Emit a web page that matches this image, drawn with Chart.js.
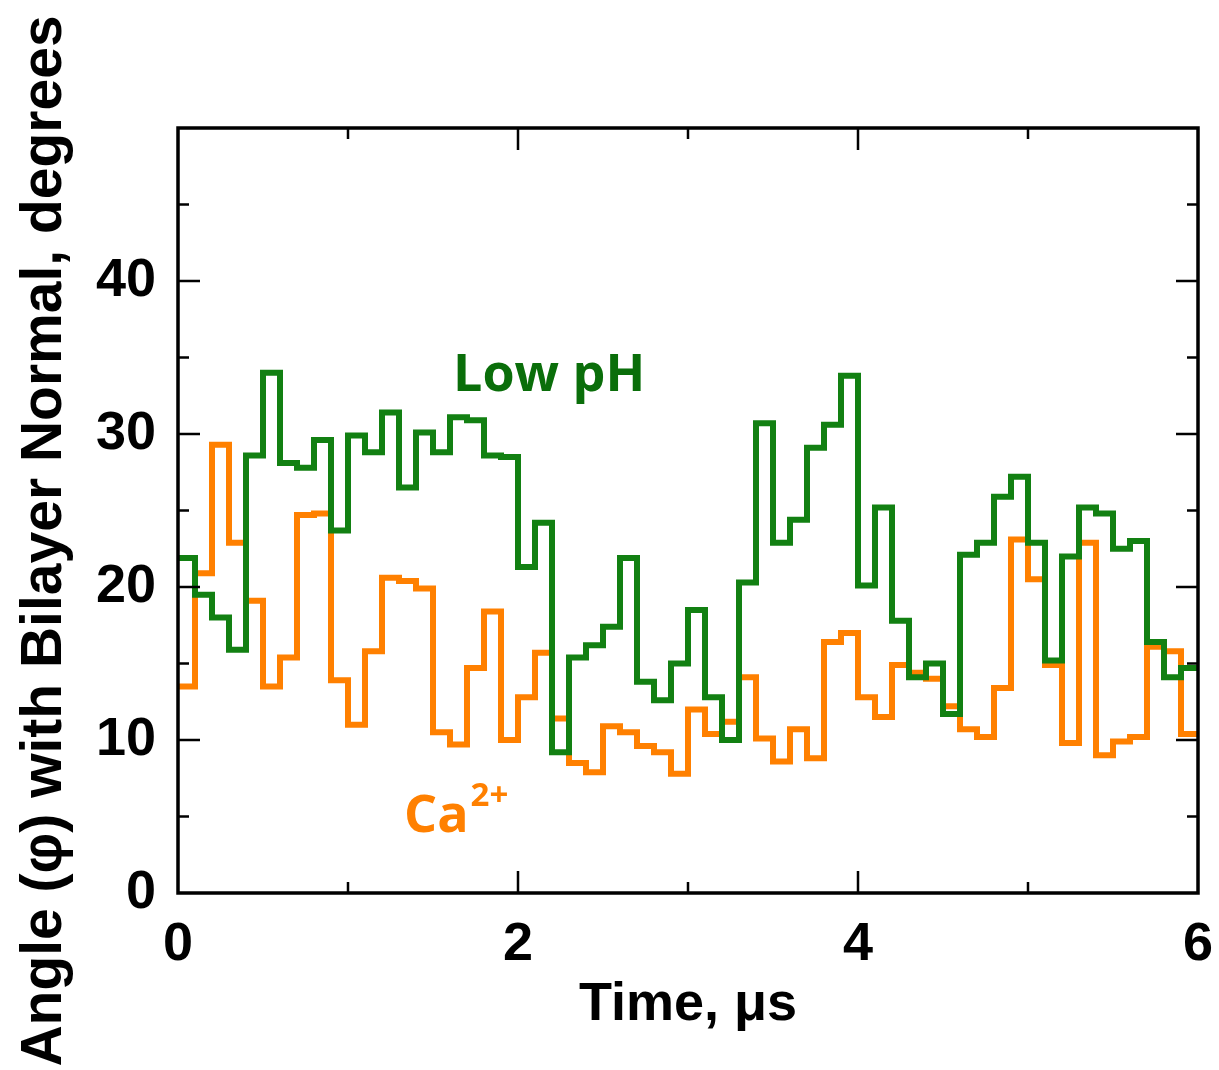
<!DOCTYPE html>
<html>
<head>
<meta charset="utf-8">
<script src="https://cdn.jsdelivr.net/npm/chart.js@4.4.0/dist/chart.umd.min.js"></script>
<style>
  body { margin: 0; background: #fff; }
  canvas { display: block; }
</style>
</head>
<body>
<canvas id="angleChart" width="1219" height="1070"></canvas>
<script>
// time points (µs), one step every 0.1 µs, last point closes the final step
const time = [0.0, 0.1, 0.2, 0.3, 0.4, 0.5, 0.6, 0.7, 0.8, 0.9,
              1.0, 1.1, 1.2, 1.3, 1.4, 1.5, 1.6, 1.7, 1.8, 1.9,
              2.0, 2.1, 2.2, 2.3, 2.4, 2.5, 2.6, 2.7, 2.8, 2.9,
              3.0, 3.1, 3.2, 3.3, 3.4, 3.5, 3.6, 3.7, 3.8, 3.9,
              4.0, 4.1, 4.2, 4.3, 4.4, 4.5, 4.6, 4.7, 4.8, 4.9,
              5.0, 5.1, 5.2, 5.3, 5.4, 5.5, 5.6, 5.7, 5.8, 5.9, 6.0];

const lowPH = [21.9, 19.5, 18.0, 15.9, 28.6, 34.0, 28.1, 27.8, 29.6, 23.7,
               29.9, 28.8, 31.4, 26.5, 30.1, 28.8, 31.1, 30.9, 28.6, 28.5,
               21.3, 24.2, 9.2, 15.4, 16.2, 17.4, 21.9, 13.8, 12.6, 15.0,
               18.5, 12.8, 10.0, 20.3, 30.7, 22.9, 24.4, 29.1, 30.6, 33.8,
               20.1, 25.2, 17.8, 14.1, 15.0, 11.7, 22.1, 22.9, 25.9, 27.2,
               22.9, 15.2, 22.0, 25.2, 24.8, 22.5, 23.0, 16.4, 14.1, 14.7, 14.7];

const calcium = [13.5, 20.9, 29.3, 22.9, 19.1, 13.5, 15.4, 24.7, 24.8, 13.9,
                 11.0, 15.8, 20.6, 20.4, 19.9, 10.5, 9.7, 14.7, 18.4, 10.0,
                 12.8, 15.7, 11.4, 8.5, 7.9, 10.9, 10.5, 9.6, 9.2, 7.8,
                 12.0, 10.4, 11.2, 14.1, 10.1, 8.6, 10.7, 8.8, 16.4, 17.0,
                 12.8, 11.5, 14.9, 14.4, 14.0, 12.2, 10.7, 10.2, 13.4, 23.1,
                 20.5, 14.9, 9.8, 22.9, 9.0, 9.9, 10.2, 16.1, 15.8, 10.4, 10.4];

const yMajor = [10, 20, 30, 40];
const yMinor = [5, 15, 25, 35, 45];
const xMajor = [2, 4];
const xMinor = [1, 3, 5];

const green = 'rgb(18, 128, 18)';
const orange = 'rgb(255, 128, 0)';
const tickFont = { family: 'Liberation Sans, Arial, sans-serif', size: 54, weight: 'bold' };

function toPoints(values) {
    return values.map((v, i) => ({ x: time[i], y: v }));
}

// frame, inward ticks on all four sides, and the text labels
const frameAndLabels = {
    id: 'frameAndLabels',
    afterDraw(chart) {
        const ctx = chart.ctx;
        const a = chart.chartArea;
        const xs = chart.scales.x;
        const ys = chart.scales.y;
        ctx.save();
        ctx.strokeStyle = '#000';
        ctx.lineWidth = 3.5;
        ctx.strokeRect(a.left, a.top, a.right - a.left, a.bottom - a.top);

        function yTick(v, len) {
            const py = ys.getPixelForValue(v);
            ctx.beginPath();
            ctx.moveTo(a.left, py); ctx.lineTo(a.left + len, py);
            ctx.moveTo(a.right, py); ctx.lineTo(a.right - len, py);
            ctx.stroke();
        }
        function xTick(v, len) {
            const px = xs.getPixelForValue(v);
            ctx.beginPath();
            ctx.moveTo(px, a.bottom); ctx.lineTo(px, a.bottom - len);
            ctx.moveTo(px, a.top); ctx.lineTo(px, a.top + len);
            ctx.stroke();
        }
        ctx.lineWidth = 2.5;
        yMajor.forEach(v => yTick(v, 22));
        yMinor.forEach(v => yTick(v, 11));
        xMajor.forEach(v => xTick(v, 22));
        xMinor.forEach(v => xTick(v, 11));

        // y axis title
        ctx.save();
        ctx.translate(45, 541);
        ctx.rotate(-Math.PI / 2);
        ctx.fillStyle = '#000';
        ctx.font = 'bold 57px "Liberation Sans", Arial, sans-serif';
        ctx.textAlign = 'center';
        ctx.textBaseline = 'middle';
        ctx.fillText('Angle (\u03C6) with Bilayer Normal, degrees', 0, 0);
        ctx.restore();

        // series labels
        ctx.textAlign = 'left';
        ctx.textBaseline = 'alphabetic';
        ctx.fillStyle = 'rgb(10, 110, 10)';
        ctx.font = 'bold 52px "Open Sans", sans-serif';
        ctx.fillText('Low pH', 453, 391);

        ctx.fillStyle = orange;
        ctx.font = 'bold 52px "Open Sans", sans-serif';
        ctx.fillText('Ca', 404, 832);
        const w = ctx.measureText('Ca').width;
        ctx.font = 'bold 33px "Open Sans", sans-serif';
        ctx.fillText('2+', 404 + w + 2, 806);
        ctx.restore();
    }
};

new Chart(document.getElementById('angleChart'), {
    type: 'line',
    data: {
        datasets: [
            {
                label: 'Low pH',
                data: toPoints(lowPH),
                stepped: 'before',
                borderColor: green,
                borderWidth: 6,
                borderJoinStyle: 'miter',
                pointRadius: 0,
                fill: false
            },
            {
                label: 'Ca2+',
                data: toPoints(calcium),
                stepped: 'before',
                borderColor: orange,
                borderWidth: 6,
                borderJoinStyle: 'miter',
                pointRadius: 0,
                fill: false
            }
        ]
    },
    options: {
        responsive: false,
        animation: false,
        layout: { padding: { top: 128, right: 21, bottom: 0, left: 0 } },
        plugins: {
            legend: { display: false },
            tooltip: { enabled: false }
        },
        scales: {
            x: {
                type: 'linear',
                min: 0,
                max: 6,
                grid: { display: false, drawTicks: false },
                border: { display: false },
                ticks: { stepSize: 2, padding: 20, color: '#000', font: tickFont },
                title: {
                    display: true,
                    text: 'Time, \u03BCs',
                    color: '#000',
                    font: tickFont,
                    padding: { top: 0, bottom: 32 }
                },
                afterFit: function(scale) {
                    scale.height = 177;
                    scale.paddingLeft = 0;
                    scale.paddingRight = 0;
                }
            },
            y: {
                min: 0,
                max: 50,
                grid: { display: false, drawTicks: false },
                border: { display: false },
                ticks: {
                    stepSize: 10,
                    padding: 22,
                    color: '#000',
                    font: tickFont,
                    callback: function(v) { return v === 50 ? '' : v; }
                },
                afterFit: function(scale) { scale.width = 178; }
            }
        }
    },
    plugins: [frameAndLabels]
});
</script>
</body>
</html>
